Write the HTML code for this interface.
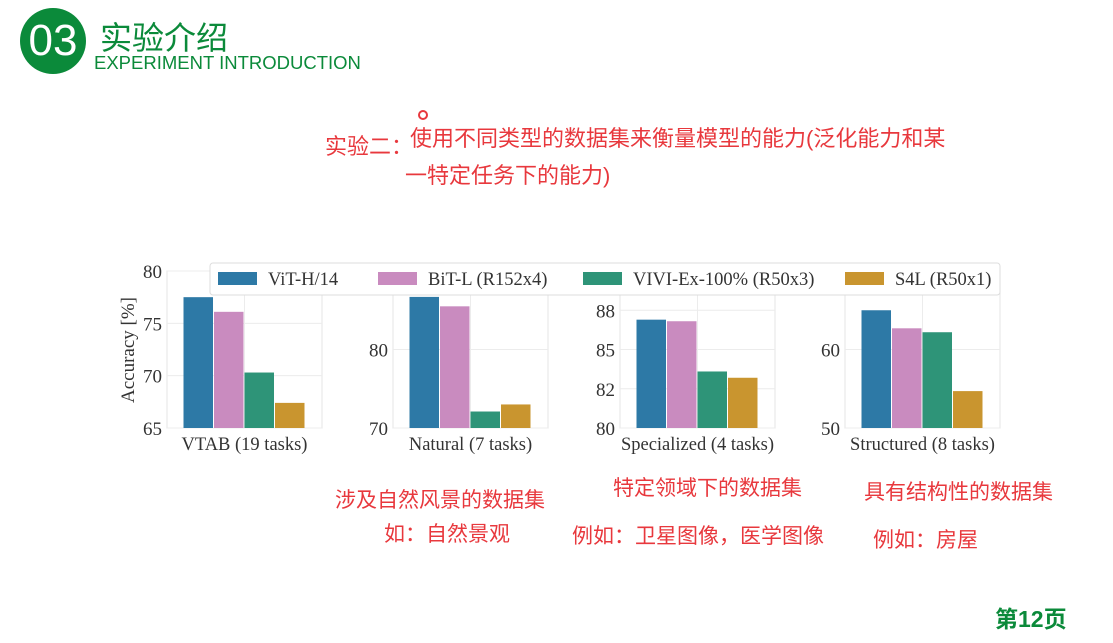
<!DOCTYPE html>
<html><head><meta charset="utf-8">
<style>
body{margin:0;width:1113px;height:643px;background:#fff;position:relative;overflow:hidden;font-family:"Liberation Sans","Noto Sans CJK SC",sans-serif}
.abs{position:absolute;white-space:nowrap}
.red{color:#e8383d;font-size:22px}
</style></head><body>
<div class="abs" style="left:20px;top:8px;width:66px;height:66px;border-radius:50%;background:#0b8a3a;color:#fff;font-size:44px;line-height:66px;text-align:center;font-family:'Liberation Sans',sans-serif">03</div>
<div class="abs" style="left:100px;top:13px;font-size:32px;color:#0b8a3a">实验介绍</div>
<div class="abs" style="left:94px;top:52px;font-size:18.5px;color:#0b8a3a">EXPERIMENT INTRODUCTION</div>
<div class="abs" style="left:418px;top:110px;width:10px;height:10px;border-radius:50%;border:2px solid #e8383d;box-sizing:border-box"></div>
<div class="abs red" style="left:325px;top:129px">实验二：</div>
<div class="abs red" style="left:410px;top:121px">使用不同类型的数据集来衡量模型的能力(泛化能力和某</div>
<div class="abs red" style="left:405px;top:158px">一特定任务下的能力)</div>

<svg class="abs" style="left:0;top:0" width="1113" height="643" id="chart"></svg>

<div class="abs red" style="left:335px;top:484px;font-size:21px">涉及自然风景的数据集</div>
<div class="abs red" style="left:384px;top:518px;font-size:21px">如：自然景观</div>
<div class="abs red" style="left:613px;top:472px;font-size:21px">特定领域下的数据集</div>
<div class="abs red" style="left:572px;top:520px;font-size:21px">例如：卫星图像，医学图像</div>
<div class="abs red" style="left:864px;top:476px;font-size:21px">具有结构性的数据集</div>
<div class="abs red" style="left:873px;top:524px;font-size:21px">例如：房屋</div>
<div class="abs" style="left:995px;top:600px;font-size:23px;font-weight:bold;color:#0b8a3a">第12页</div>

<script>
const categories=["VTAB (19 tasks)","Natural (7 tasks)","Specialized (4 tasks)","Structured (8 tasks)"];
const seriesNames=["ViT-H/14","BiT-L (R152x4)","VIVI-Ex-100% (R50x3)","S4L (R50x1)"];
const vitValues=[77.5,86.7,86.9,65.0];
const bitValues=[76.1,85.5,86.8,62.7];
const viviValues=[70.3,72.1,83.6,62.2];
const s4lValues=[67.4,73.0,83.2,54.7];
const yMins=[65,70,80,50];
const yMaxs=[80,90,90,70];
const tickValues=[[65,70,75,80],[70,80],[80,82.5,85,87.5],[50,60]];
const tickLabels=[["65","70","75","80"],["70","80"],["80","82","85","88"],["50","60"]];
const colors=["#2d79a6","#c98bbf","#2e9478","#c9952f"];
const NS="http://www.w3.org/2000/svg";
const svg=document.getElementById('chart');
function mk(t,a,p){const e=document.createElementNS(NS,t);for(const k in a)e.setAttribute(k,a[k]);(p||svg).appendChild(e);return e;}
const panelX=[167,393,620,845],pw=155,axTop=271,axBottom=428;
const allVals=[vitValues,bitValues,viviValues,s4lValues];
categories.forEach((cat,i)=>{
  const x0=panelX[i];
  const y=v=>axBottom-(v-yMins[i])/(yMaxs[i]-yMins[i])*(axBottom-axTop);
  const g=mk('g',{});
  
  
  mk('rect',{x:x0,y:axTop,width:pw,height:axBottom-axTop,fill:'#fff',stroke:'#e4e4e4','stroke-width':1},g);
  mk('line',{x1:x0+pw/2,x2:x0+pw/2,y1:axTop,y2:axBottom,stroke:'#ececec'},g);
  tickValues[i].forEach((t,j)=>{
    const ty=y(t);
    const gl=mk('line',{x1:x0,x2:x0+pw,y1:ty,y2:ty,stroke:'#ececec'},g);
    
    
    const tx=mk('text',{x:x0-5,y:ty+7,'text-anchor':'end','font-size':19,fill:'#333','font-family':'Liberation Serif,serif'},g);
    tx.textContent=tickLabels[i][j];
    
    
  });
  const bw=30.5,bx0=x0+16.5;
  allVals.forEach((arr,s)=>{
    const yt=y(arr[i]);
    const r=mk('rect',{x:bx0+s*bw,y:yt,width:bw-1,height:axBottom-yt,fill:colors[s]},g);
    
    
  });
  const xl=mk('text',{x:x0+pw/2,y:axBottom+22,'text-anchor':'middle','font-size':18.5,fill:'#333','font-family':'Liberation Serif,serif'},g);
  xl.textContent=cat;
  
  
});
const yTitle=mk('text',{x:0,y:0,transform:'translate(134,350) rotate(-90)','text-anchor':'middle','font-size':19,fill:'#333','font-family':'Liberation Serif,serif'});
yTitle.textContent='Accuracy [%]';


const lg=mk('g',{});


mk('rect',{x:210,y:263,width:790,height:32,rx:3,fill:'#fff',stroke:'#ddd'},lg);
const lx=[218,378,583,845];
seriesNames.forEach((n,s)=>{
  const e=mk('g',{},lg);
  
  
  mk('rect',{x:lx[s],y:272,width:39,height:13,fill:colors[s]},e);
  const t=mk('text',{x:lx[s]+50,y:285,'font-size':18.5,fill:'#333','font-family':'Liberation Serif,serif'},e);
  t.textContent=n;
});
</script>
</body></html>
